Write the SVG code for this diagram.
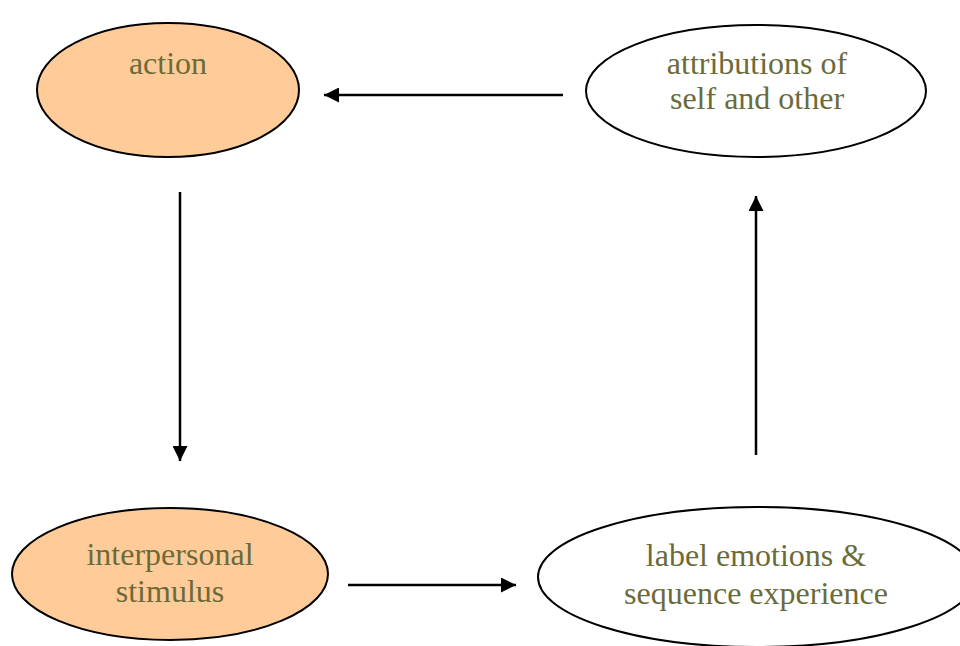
<svg xmlns="http://www.w3.org/2000/svg" width="960" height="646" viewBox="0 0 960 646">
<style>
.n{stroke:#000;stroke-width:2}
.f{fill:#ffcc99}
.w{fill:#fff}
text{font-family:"Liberation Serif","Times New Roman",serif;font-size:32px;fill:#6b6b3a;text-anchor:middle}
.c line{stroke:#000;stroke-width:2.5;marker-end:url(#ah)}
</style>
<defs>
<marker id="ah" viewBox="0 0 10 10" refX="10" refY="5" markerWidth="6.5" markerHeight="6" markerUnits="strokeWidth" orient="auto">
<path d="M0,0 L10,5 L0,10 z" fill="#000"/>
</marker>
</defs>
<rect width="960" height="646" fill="#fff"/>
<g id="action"><ellipse class="n f" cx="168" cy="90" rx="131" ry="67"/><text x="168" y="74">action</text></g>
<g id="attributions"><ellipse class="n w" cx="756" cy="91" rx="170" ry="66"/><text x="757" y="74">attributions of</text><text x="757" y="109">self and other</text></g>
<g id="interpersonal"><ellipse class="n f" cx="170" cy="574" rx="158" ry="66"/><text x="170" y="565">interpersonal</text><text x="170" y="602">stimulus</text></g>
<g id="label"><ellipse class="n w" cx="757" cy="577" rx="219" ry="70"/><text x="756" y="566">label emotions &amp;</text><text x="756" y="604">sequence experience</text></g>
<g class="c">
<line x1="563" y1="95" x2="324" y2="95"/>
<line x1="180" y1="192" x2="180" y2="461"/>
<line x1="348" y1="585" x2="516" y2="585"/>
<line x1="756" y1="455" x2="756" y2="196"/>
</g>
</svg>
